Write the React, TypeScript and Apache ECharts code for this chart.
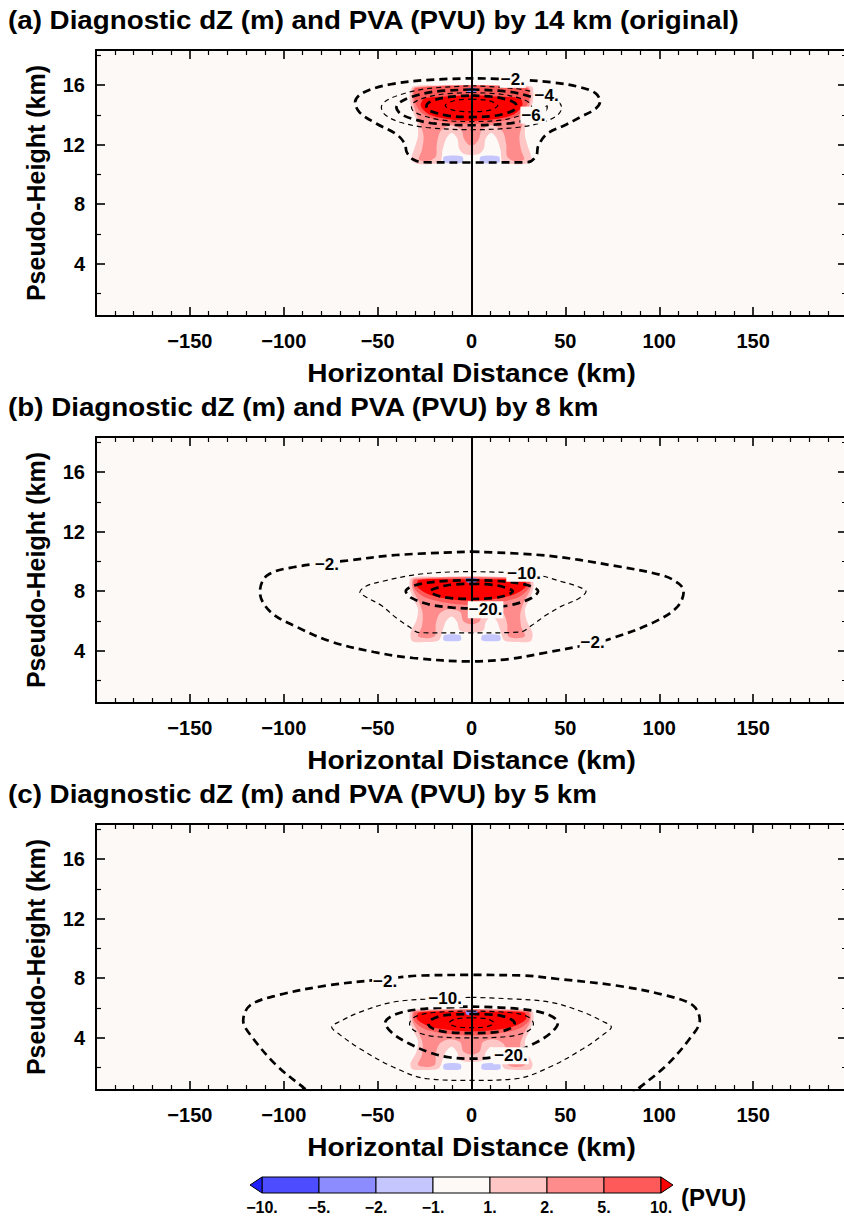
import React, { useEffect, useRef } from "react";
import * as echarts from "echarts";

// ---------------- texts / axes ----------------
const panelTitles = [
  "(a) Diagnostic dZ (m) and PVA (PVU) by 14 km (original)",
  "(b) Diagnostic dZ (m) and PVA (PVU) by 8 km",
  "(c) Diagnostic dZ (m) and PVA (PVU) by 5 km",
];
const xAxisTitle = "Horizontal Distance (km)";
const yAxisTitle = "Pseudo-Height (km)";
const xExtent = [-200, 200];
const xMajorStep = 50;
const yExtent = [0.5, 18.35];
const yMajorTicks = [4, 8, 12, 16];
const yMinorTicks = [2, 6, 10, 14, 18];

// ---------------- colour bar ----------------
const cbLabels = ["\u221210.", "\u22125.", "\u22122.", "\u22121.", "1.", "2.", "5.", "10."];
const cbColors = ["#4d4dff", "#8c8cff", "#c6c6ff", "#fcf9f7", "#ffc6c6", "#ff8c8c", "#ff5a5a"];
const cbUnder = "#2020ff";
const cbOver = "#ff0000";
const cbUnit = "(PVU)";

// ---------------- panel (a): dZ contours [x km, height km] ----------------
const a_dz2 = [[1,16.45],[-22,16.35],[-43,16.05],[-57.5,15.5],[-62,14.85],[-59.5,14.15],[-50.5,13.4],[-40,12.7],[-35.5,12.05],[-34.5,11.5],[-31,11.0],[-25.5,10.82],[0,10.8],[30,10.82],[34.5,11.25],[35.5,11.9],[40,12.7],[50.5,13.35],[58,13.85],[66,14.4],[68.5,14.9],[66,15.45],[58,15.85],[43.5,16.17],[22,16.38],[1,16.45]];
const a_dz4 = [[0,15.95],[24,15.75],[38,15.35],[46,14.9],[48,14.5],[46,14.0],[38,13.5],[24,13.15],[0,13.0],[-24,13.15],[-38,13.5],[-46,14.0],[-48,14.5],[-46,14.9],[-38,15.35],[-24,15.75],[0,15.95]];
const a_dz6 = [[0,15.7],[20,15.55],[32,15.2],[38,14.85],[40,14.5],[38,14.1],[32,13.75],[20,13.42],[0,13.3],[-20,13.42],[-32,13.75],[-38,14.1],[-40,14.5],[-38,14.85],[-32,15.2],[-20,15.55],[0,15.7]];
const a_dz8 = [[0,15.5],[16,15.38],[26,15.1],[31,14.8],[32,14.55],[31,14.25],[26,13.95],[16,13.65],[0,13.55],[-16,13.65],[-26,13.95],[-31,14.25],[-32,14.55],[-31,14.8],[-26,15.1],[-16,15.38],[0,15.5]];
const a_dz10 = [[0,15.3],[12,15.2],[19.5,15.0],[23,14.8],[24,14.6],[23,14.35],[19.5,14.15],[12,13.93],[0,13.85],[-12,13.93],[-19.5,14.15],[-23,14.35],[-24,14.6],[-23,14.8],[-19.5,15.0],[-12,15.2],[0,15.3]];
const a_dz12 = [[0,15.05],[7,15.0],[11.5,14.85],[14,14.62],[11.5,14.38],[7,14.25],[0,14.2],[-7,14.25],[-11.5,14.38],[-14,14.62],[-11.5,14.85],[-7,15.0],[0,15.05]];
const a_labels = [[22,16.38,"\u22122."],[40,15.28,"\u22124."],[33,13.98,"\u22126."]];

// panel (a): PV anomaly regions
const a_pv12 = [[-31,15.9],[-15,15.95],[0,15.9],[15,15.95],[32,15.9],[33,15.2],[31.5,14.3],[29,13.5],[28.5,12.6],[30.5,11.7],[32,11.0],[29,10.72],[22,10.7],[16.5,10.85],[15.5,11.6],[13.5,12.4],[10.5,12.8],[7.5,12.4],[6.5,11.7],[3.5,11.35],[-3.5,11.35],[-6.5,11.7],[-7.5,12.4],[-10.5,12.8],[-13.5,12.4],[-15.5,11.6],[-16.5,10.85],[-22,10.7],[-29,10.72],[-32,11.0],[-30.5,11.7],[-28.5,12.6],[-29,13.5],[-31.5,14.3],[-33,15.2]];
const a_pv25 = [[-30,15.85],[30,15.85],[31.5,15.1],[29.5,14.1],[27,13.3],[25.5,12.5],[26.5,11.6],[28,11.0],[23,10.9],[19,11.2],[18.5,12.0],[16.5,12.9],[11,13.3],[5.5,13.0],[4,12.4],[1.5,12.0],[-1.5,12.0],[-4,12.4],[-5.5,13.0],[-11,13.3],[-16.5,12.9],[-18.5,12.0],[-19,11.2],[-23,10.9],[-28,11.0],[-26.5,11.6],[-25.5,12.5],[-27,13.3],[-29.5,14.1],[-31.5,15.1]];
const a_pv510 = [[-29.5,15.8],[29.5,15.8],[30.5,15.0],[27,14.2],[20,13.7],[10,13.45],[0,13.4],[-10,13.45],[-20,13.7],[-27,14.2],[-30.5,15.0]];
const a_pv10 = [[-25,15.1],[-10,15.25],[-4,15.3],[4,15.3],[10,15.25],[26,15.1],[27,14.6],[22,14.0],[12,13.7],[0,13.6],[-12,13.7],[-22,14.0],[-27,14.6]];
const a_pvNegTop = [[-2.5,15.78],[2.5,15.78],[2,15.5],[-2,15.5]];
const a_pvNegL = [[-14.5,11.2],[-5,11.2],[-4.8,10.8],[-14.7,10.8]];
const a_pvNegR = [[5,11.2],[14.5,11.2],[14.7,10.8],[4.8,10.8]];

// ---------------- panel (b) ----------------
const b_dz2 = [[0,10.66],[40,10.39],[75.5,9.72],[102,9.05],[110.5,8.5],[113,7.98],[109.5,6.93],[97,5.91],[75,4.85],[62,4.42],[40,3.89],[20,3.45],[0,3.29],[-31,3.52],[-52,3.92],[-75,4.63],[-93,5.6],[-107,6.6],[-112.7,7.94],[-109,9.05],[-95,9.61],[-66.5,10.05],[-40,10.43],[0,10.66]];
const b_dz10 = [[0,9.32],[20,9.25],[34.6,9.1],[48,8.65],[57,8.3],[61,7.98],[57,7.5],[48,7.0],[39.8,6.4],[32,5.7],[25.8,5.26],[0,5.2],[-28,5.22],[-33,5.6],[-40,6.2],[-48,7.04],[-56,7.6],[-59.5,7.94],[-56,8.35],[-48,8.65],[-30.4,9.1],[-15,9.27],[0,9.32]];
const b_dz20 = [[0,8.75],[18,8.65],[30,8.4],[35.5,8.0],[32,7.55],[22,7.1],[10,6.9],[0,6.85],[-10,6.9],[-22,7.1],[-32,7.55],[-35,8.0],[-30,8.4],[-18,8.65],[0,8.75]];
const b_dz30 = [[0,8.5],[12,8.42],[19,8.2],[22,8.0],[19,7.75],[12,7.55],[0,7.48],[-12,7.55],[-19,7.75],[-22,8.0],[-19,8.2],[-12,8.42],[0,8.5]];
const b_labels = [[-77,9.8,"\u22122."],[64.5,4.55,"\u22122."],[28,9.2,"\u221210."],[7.5,6.75,"\u221220."]];

const b_pv12 = [[-32,8.9],[-15,8.95],[0,8.9],[15,8.95],[32,8.9],[33,8.3],[31,7.5],[28.5,6.8],[29.5,6.0],[32.5,5.2],[31.5,4.65],[25,4.6],[17.5,4.7],[15.5,5.3],[13.5,6.0],[10.5,6.3],[7.5,5.9],[6.5,5.4],[3,5.25],[-3,5.25],[-6.5,5.4],[-7.5,5.9],[-10.5,6.3],[-13.5,6.0],[-15.5,5.3],[-17.5,4.7],[-25,4.6],[-31.5,4.65],[-32.5,5.2],[-29.5,6.0],[-28.5,6.8],[-31,7.5],[-33,8.3]];
const b_pv25 = [[-30.5,8.85],[30.5,8.85],[31.5,8.2],[28,7.3],[26,6.5],[26.5,5.6],[28.5,5.0],[24,4.85],[19.5,5.0],[19,5.8],[17,6.5],[12,6.8],[6,6.6],[4.5,6.0],[1.5,5.8],[-1.5,5.8],[-4.5,6.0],[-6,6.6],[-12,6.8],[-17,6.5],[-19,5.8],[-19.5,5.0],[-24,4.85],[-28.5,5.0],[-26.5,5.6],[-26,6.5],[-28,7.3],[-31.5,8.2]];
const b_pv510 = [[-30,8.8],[30,8.8],[30.5,8.2],[25,7.6],[12,7.2],[0,7.1],[-12,7.2],[-25,7.6],[-30.5,8.2]];
const b_pv10 = [[-28,8.75],[-8,8.8],[8,8.8],[28,8.75],[29,8.3],[22,7.75],[10,7.45],[0,7.38],[-10,7.45],[-22,7.75],[-29,8.3]];
const b_pvNegTop = [[-3,8.85],[3,8.85],[2.5,8.6],[-2.5,8.6]];
const b_pvNegL = [[-14.5,5.05],[-6,5.05],[-5.8,4.7],[-14.7,4.7]];
const b_pvNegR = [[5.8,5.05],[15,5.05],[15.2,4.7],[5.6,4.7]];

// ---------------- panel (c) ----------------
const c_dz2 = [[-83,0],[-88.7,0.58],[-103.8,2.15],[-116.2,3.94],[-121.6,5.16],[-118,6.17],[-103.8,6.84],[-77,7.51],[-46,7.95],[-27.4,8.18],[0,8.22],[27.4,8.18],[46,7.95],[77,7.51],[103.8,6.84],[118,6.17],[121.6,5.16],[116.2,3.94],[103.8,2.15],[88.7,0.58],[83,0]];
const c_dz10 = [[0,6.72],[20,6.62],[41.7,6.4],[59.4,5.73],[70,5.1],[74.5,4.72],[70,4.2],[59.4,3.27],[41.7,2.04],[23.9,1.26],[0,1.14],[-23.9,1.26],[-41.7,2.04],[-59.4,3.27],[-70,4.2],[-74.5,4.72],[-70,5.1],[-59.4,5.73],[-41.7,6.4],[-20,6.62],[0,6.72]];
const c_dz20 = [[0,6.1],[25,5.95],[40,5.6],[46,5.0],[42,4.3],[33,3.6],[22,3.0],[12,2.7],[0,2.6],[-12,2.7],[-22,3.0],[-33,3.6],[-42,4.3],[-46,5.0],[-40,5.6],[-25,5.95],[0,6.1]];
const c_dz30 = [[0,5.8],[20,5.7],[30,5.42],[33,4.95],[30,4.45],[20,4.1],[0,4.0],[-20,4.1],[-30,4.45],[-33,4.95],[-30,5.42],[-20,5.7],[0,5.8]];
const c_dz40 = [[0,5.6],[14,5.52],[21,5.25],[23,4.95],[21,4.65],[14,4.4],[0,4.32],[-14,4.4],[-21,4.65],[-23,4.95],[-21,5.25],[-14,5.52],[0,5.6]];
const c_dz50 = [[0,5.35],[8,5.28],[12,5.0],[8,4.75],[0,4.68],[-8,4.75],[-12,5.0],[-8,5.28],[0,5.35]];
const c_labels = [[-46,7.8,"\u22122."],[-14,6.62,"\u221210."],[21,2.8,"\u221220."]];

const c_pv12 = [[-32,5.85],[-15,5.9],[0,5.85],[15,5.9],[32,5.85],[33,5.25],[31,4.5],[28.5,3.8],[29.5,3.0],[32.5,2.3],[31.5,1.9],[25,1.85],[17.5,1.95],[15.5,2.5],[13.5,3.1],[10.5,3.4],[7.5,3.0],[6.5,2.55],[3,2.4],[-3,2.4],[-6.5,2.55],[-7.5,3.0],[-10.5,3.4],[-13.5,3.1],[-15.5,2.5],[-17.5,1.95],[-25,1.85],[-31.5,1.9],[-32.5,2.3],[-29.5,3.0],[-28.5,3.8],[-31,4.5],[-33,5.25]];
const c_pv25 = [[-30.5,5.8],[30.5,5.8],[31.5,5.15],[28,4.3],[26,3.6],[26.5,2.8],[28.5,2.2],[24,2.05],[19.5,2.2],[19,2.95],[17,3.6],[12,3.9],[6,3.7],[4.5,3.1],[1.5,2.9],[-1.5,2.9],[-4.5,3.1],[-6,3.7],[-12,3.9],[-17,3.6],[-19,2.95],[-19.5,2.2],[-24,2.05],[-28.5,2.2],[-26.5,2.8],[-26,3.6],[-28,4.3],[-31.5,5.15]];
const c_pv510 = [[-30,5.75],[30,5.75],[30.5,5.15],[25,4.6],[12,4.25],[0,4.15],[-12,4.25],[-25,4.6],[-30.5,5.15]];
const c_pv10 = [[-28,5.7],[-8,5.75],[8,5.75],[28,5.7],[29,5.25],[22,4.75],[10,4.5],[0,4.45],[-10,4.5],[-22,4.75],[-29,5.25]];
const c_pvNegTop = [[-3,5.8],[3,5.8],[2.5,5.55],[-2.5,5.55]];
const c_pvNegL = [[-14.5,2.25],[-6,2.25],[-5.8,1.9],[-14.7,1.9]];
const c_pvNegR = [[5.8,2.25],[15,2.25],[15.2,1.9],[5.6,1.9]];

// ---------------- assembly ----------------
const panels = [
  { thick: [a_dz2, a_dz6, a_dz10], thin: [a_dz4, a_dz8, a_dz12], labels: a_labels,
    pv: [a_pv12, a_pv25, a_pv510, a_pv10, a_pvNegTop, a_pvNegL, a_pvNegR] },
  { thick: [b_dz2, b_dz20, b_dz30], thin: [b_dz10], labels: b_labels,
    pv: [b_pv12, b_pv25, b_pv510, b_pv10, b_pvNegTop, b_pvNegL, b_pvNegR] },
  { thick: [c_dz2, c_dz20, c_dz40], thin: [c_dz10, c_dz30, c_dz50], labels: c_labels,
    pv: [c_pv12, c_pv25, c_pv510, c_pv10, c_pvNegTop, c_pvNegL, c_pvNegR] },
];
const pvFill = [cbColors[4], cbColors[5], cbColors[6], cbOver, cbColors[1], cbColors[2], cbColors[2]];

const FONT = "'Liberation Sans', Arial, Helvetica, sans-serif";

function buildOption() {
  const plotLeft = 96, plotWidth = 751, plotHeight = 266;
  const plotTops = [50, 437, 824];
  const fmtNum = (v: number) => (v < 0 ? "\u2212" + Math.abs(v) : String(v));

  const grid: any[] = plotTops.map((t) => ({
    left: plotLeft, top: t, width: plotWidth, height: plotHeight,
    show: true, backgroundColor: cbColors[3], borderWidth: 0,
    containLabel: false, outerBoundsMode: "none",
  }));
  grid.push({ left: 244.9, top: 1177, width: 433.2, height: 16, show: false, containLabel: false, outerBoundsMode: "none" });

  const xAxis: any[] = [];
  const yAxis: any[] = [];
  plotTops.forEach((_, i) => {
    ["bottom", "top"].forEach((pos) =>
      xAxis.push({
        gridIndex: i, type: "value", position: pos,
        min: xExtent[0], max: xExtent[1], interval: xMajorStep,
        axisLine: { show: true, onZero: false, lineStyle: { color: "#000", width: 2 } },
        axisTick: { show: true, inside: true, length: 9, lineStyle: { color: "#000", width: 1.6 } },
        minorTick: { show: true, splitNumber: 5, length: 5, lineStyle: { color: "#000", width: 1.2 } },
        axisLabel: {
          show: pos === "bottom", showMinLabel: false, showMaxLabel: false,
          formatter: fmtNum, color: "#000", fontSize: 20, fontWeight: "bold", fontFamily: FONT, margin: 15,
        },
        splitLine: { show: false }, minorSplitLine: { show: false },
      })
    );
    ["left", "right"].forEach((pos) => {
      yAxis.push({
        gridIndex: i, type: "value", position: pos, min: yExtent[0], max: yExtent[1],
        axisLine: { show: true, onZero: false, lineStyle: { color: "#000", width: 2 } },
        axisTick: { show: true, inside: true, length: 9, customValues: yMajorTicks, lineStyle: { color: "#000", width: 1.6 } },
        axisLabel: {
          show: pos === "left", customValues: yMajorTicks, formatter: fmtNum,
          color: "#000", fontSize: 20, fontWeight: "bold", fontFamily: FONT, margin: 11,
        },
        splitLine: { show: false },
      });
      yAxis.push({
        gridIndex: i, type: "value", position: pos, min: yExtent[0], max: yExtent[1],
        axisLine: { show: false, onZero: false },
        axisTick: { show: true, inside: true, length: 5, customValues: yMinorTicks, lineStyle: { color: "#000", width: 1.2 } },
        axisLabel: { show: false }, splitLine: { show: false },
      });
    });
  });
  // colour bar axes
  xAxis.push({
    gridIndex: 3, type: "value", min: -0.3, max: 7.3, position: "bottom",
    axisLine: { show: false }, axisTick: { show: false }, splitLine: { show: false },
    axisLabel: {
      customValues: cbLabels.map((_, k) => k),
      formatter: (v: number) => cbLabels[Math.round(v)] ?? "",
      color: "#000", fontSize: 16, fontWeight: "bold", fontFamily: FONT, margin: 6,
    },
  });
  yAxis.push({ gridIndex: 3, type: "value", min: 0, max: 1, show: false });

  const series: any[] = [];
  panels.forEach((pnl, i) => {
    const xi = 2 * i, yi = 4 * i;
    series.push({
      type: "custom", xAxisIndex: xi, yAxisIndex: yi, clip: true, silent: true, z: 1,
      data: pnl.pv.map((p) => p[0]),
      renderItem: (params: any, api: any) => {
        const poly = pnl.pv[params.dataIndex];
        return {
          type: "polygon",
          shape: { points: poly.map((pt) => api.coord(pt)), smooth: 0.3 },
          style: { fill: pvFill[params.dataIndex], stroke: null },
        };
      },
    });
    const mk = (pts: number[][], thick: boolean) => ({
      type: "line", xAxisIndex: xi, yAxisIndex: yi, data: pts, smooth: 0.35,
      symbol: "none", showSymbol: false, silent: true, clip: true, z: 3,
      lineStyle: { color: "#000", width: thick ? 2.7 : 1.2, type: thick ? [8, 5] : [5, 4] },
    });
    pnl.thick.forEach((pts) => series.push(mk(pts, true)));
    pnl.thin.forEach((pts) => series.push(mk(pts, false)));
    series.push({
      type: "scatter", xAxisIndex: xi, yAxisIndex: yi, symbolSize: 1, silent: true, z: 6,
      itemStyle: { color: "rgba(0,0,0,0)" },
      data: pnl.labels.map((l) => ({ value: [l[0], l[1]], name: l[2] })),
      label: {
        show: true, position: "inside", formatter: "{b}", color: "#000", opacity: 1,
        fontSize: 17, fontWeight: "bold", fontFamily: FONT, textBorderWidth: 0,
        backgroundColor: cbColors[3], padding: [0, 1], lineHeight: 17,
      },
      markLine: {
        silent: true, symbol: ["none", "none"], label: { show: false },
        lineStyle: { color: "#000", width: 2, type: "solid" },
        data: [{ xAxis: 0 }],
      },
    });
  });

  // colour bar boxes and end triangles
  series.push({
    type: "custom", xAxisIndex: 6, yAxisIndex: 12, silent: true,
    data: cbColors.map((_, k) => [k, 0]),
    renderItem: (params: any, api: any) => {
      const k = api.value(0);
      const p0 = api.coord([k, 1]);
      const p1 = api.coord([k + 1, 0]);
      return {
        type: "rect",
        shape: { x: p0[0], y: p0[1], width: p1[0] - p0[0], height: p1[1] - p0[1] },
        style: { fill: cbColors[k], stroke: "#000", lineWidth: 1 },
      };
    },
  });
  series.push({
    type: "custom", xAxisIndex: 6, yAxisIndex: 12, silent: true,
    data: [[0, 0], [cbColors.length, 0]],
    renderItem: (params: any, api: any) => {
      const k = api.value(0);
      const dir = k === 0 ? -1 : 1;
      const a = api.coord([k, 1]);
      const b = api.coord([k, 0]);
      const t = api.coord([k + dir * 0.21, 0.5]);
      return {
        type: "polygon", shape: { points: [a, b, t] },
        style: { fill: k === 0 ? cbUnder : cbOver, stroke: "#000", lineWidth: 1 },
      };
    },
  });

  const txt = (text: string, size: number, align: string) => ({
    text, fill: "#000", fontSize: size, fontWeight: "bold", fontFamily: FONT,
    align, verticalAlign: "middle", textAlign: align, textVerticalAlign: "middle",
  });
  const graphic: any[] = [];
  const titleY = [20, 407, 794];
  panelTitles.forEach((t, i) =>
    graphic.push({ type: "text", x: 8, y: titleY[i], scaleX: 1.11, silent: true, style: txt(t, 25, "left") })
  );
  plotTops.forEach((top) => {
    graphic.push({ type: "text", x: 471.5, y: top + 323, scaleX: 1.1, silent: true, style: txt(xAxisTitle, 25.5, "center") });
    graphic.push({ type: "text", x: 36, y: top + plotHeight / 2, rotation: Math.PI / 2, scaleX: 1.0, silent: true, style: txt(yAxisTitle, 25, "center") });
  });
  graphic.push({ type: "text", x: 681, y: 1197, silent: true, style: txt(cbUnit, 24, "left") });

  return {
    animation: false,
    backgroundColor: "#ffffff",
    textStyle: { fontFamily: FONT },
    grid, xAxis, yAxis, series, graphic,
  };
}

export default function App() {
  const ref = useRef<HTMLDivElement>(null);
  useEffect(() => {
    if (!ref.current) return;
    const chart = echarts.init(ref.current, null, { renderer: "svg" });
    chart.setOption(buildOption() as any);
    return () => chart.dispose();
  }, []);
  return (
    <div
      ref={ref}
      style={{ position: "absolute", left: 0, top: 0, width: 844, height: 1221, background: "#fff" }}
    />
  );
}
